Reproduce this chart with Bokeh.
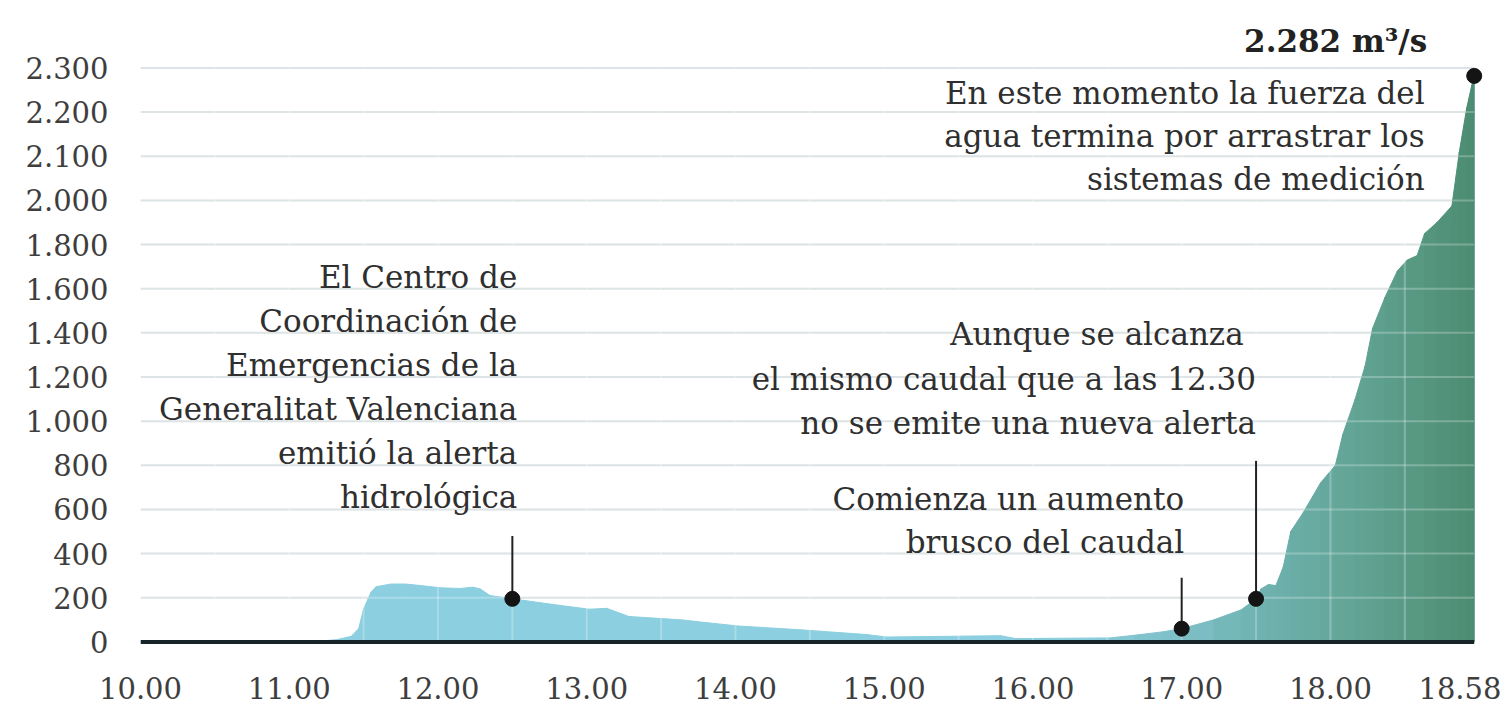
from bokeh.plotting import figure
from bokeh.models import FixedTicker, Range1d
from bokeh.core.properties import value
from bokeh.embed import file_html
from bokeh.resources import INLINE

# ---------------- data ----------------
times = ["10:00", "11:00", "11:12", "11:19", "11:25", "11:28", "11:30", "11:33", "11:35",
         "11:41", "11:47", "11:53", "12:01", "12:09", "12:14", "12:17", "12:21", "12:30",
         "12:46", "13:01", "13:08", "13:11", "13:17", "13:38", "13:46", "14:01", "14:26",
         "14:53", "15:01", "15:47", "15:53", "16:31", "16:41", "16:52", "17:00", "17:13",
         "17:24", "17:30", "17:32", "17:35", "17:38", "17:41", "17:44", "17:49", "17:56",
         "18:02", "18:05", "18:10", "18:14", "18:17", "18:22", "18:27", "18:31", "18:35",
         "18:38", "18:43", "18:49", "18:52", "18:55", "18:57", "18:58"]
flow = [0, 0, 3, 10, 25, 60, 150, 225, 250,
        262, 262, 255, 245, 242, 248, 240, 210, 195,
        170, 148, 152, 140, 115, 100, 90, 72, 55,
        33, 22, 28, 15, 18, 30, 45, 60, 100,
        145, 195, 240, 260, 255, 340, 500, 585, 720,
        800, 940, 1100, 1250, 1420, 1560, 1680, 1730, 1750,
        1850, 1900, 1975, 2110, 2210, 2260, 2282]

x_tick_times = ["10:00", "11:00", "12:00", "13:00", "14:00", "15:00", "16:00", "17:00", "18:00", "18:58"]
x_tick_labels = ["10.00", "11.00", "12.00", "13.00", "14.00", "15.00", "16.00", "17.00", "18.00", "18.58"]
y_tick_values = [0, 200, 400, 600, 800, 1000, 1200, 1400, 1600, 1800, 2000, 2100, 2200, 2300]
y_tick_labels = ["0", "200", "400", "600", "800", "1.000", "1.200", "1.400", "1.600", "1.800",
                 "2.000", "2.100", "2.200", "2.300"]

marker_times = ["12:30", "17:00", "17:30", "18:58"]
peak_label = "2.282 m³/s"
note_alerta = ["El Centro de", "Coordinación de", "Emergencias de la",
               "Generalitat Valenciana", "emitió la alerta", "hidrológica"]
note_mismo = ["Aunque se alcanza", "el mismo caudal que a las 12.30", "no se emite una nueva alerta"]
note_aumento = ["Comienza un aumento", "brusco del caudal"]
note_peak = ["En este momento la fuerza del", "agua termina por arrastrar los", "sistemas de medición"]


def to_min(s):
    h, m = s.split(":")
    return int(h) * 60 + int(m)


def to_units(v):
    # the axis is stretched above 2.000: 200 per step below, 100 per step above
    return v / 200.0 if v <= 2000 else 10 + (v - 2000) / 100.0


x = [to_min(t) for t in times]
y = [to_units(v) for v in flow]
x_end = x[-1]

# ---------------- colours ----------------
stops = [(960, (140, 207, 224)), (1020, (126, 192, 200)), (1050, (112, 179, 178)),
         (1080, (102, 168, 156)), (1110, (90, 155, 134)), (1138, (76, 140, 114))]


def grad(t):
    if t <= stops[0][0]:
        c = stops[0][1]
    elif t >= stops[-1][0]:
        c = stops[-1][1]
    else:
        for (t0, c0), (t1, c1) in zip(stops[:-1], stops[1:]):
            if t0 <= t <= t1:
                f = (t - t0) / (t1 - t0)
                c = tuple(round(a + (b - a) * f) for a, b in zip(c0, c1))
                break
    return "#%02x%02x%02x" % c


p = figure(width=1501, height=708, output_backend="svg", toolbar_location=None,
           x_range=Range1d(600, 600 + 9.13 * 60), y_range=Range1d(-0.15, 14.12),
           min_border_left=140, min_border_right=3, min_border_top=18, min_border_bottom=60)
p.outline_line_color = None
p.xgrid.visible = False
p.ygrid.visible = False
p.background_fill_color = "white"

# horizontal grid lines (under the area)
grid_u = [to_units(v) for v in y_tick_values[1:]]
p.segment(x0=[600] * len(grid_u), x1=[x_end] * len(grid_u), y0=grid_u, y1=grid_u,
          line_color="#d3dbde", line_width=2)

# area, coloured strip by strip
xs, ys, cols = [], [], []
for i in range(len(x) - 1):
    xs.append([x[i], x[i + 1], x[i + 1], x[i]])
    ys.append([0, 0, y[i + 1], y[i]])
    cols.append(grad((x[i] + x[i + 1]) / 2))
p.patches(xs, ys, fill_color=cols, line_color=cols, line_width=1)

# light grid lines over the area
p.segment(x0=[600] * len(grid_u), x1=[x_end] * len(grid_u), y0=grid_u, y1=grid_u,
          line_color="white", line_alpha=0.25, line_width=2)
vx = list(range(630, x_end, 30))
p.segment(x0=vx, x1=vx, y0=[0] * len(vx), y1=[13] * len(vx),
          line_color="white", line_alpha=0.25, line_width=2)

# baseline
p.segment(x0=[600], x1=[x_end], y0=[0], y1=[0], line_color="#17252b", line_width=4)

# markers and stems
mx = [to_min(t) for t in marker_times]
my = [y[x.index(m)] for m in mx]
stem_top = [2.4, 1.45, 4.1]
p.segment(x0=mx[:3], x1=mx[:3], y0=my[:3], y1=stem_top, line_color="#222222", line_width=2)
p.scatter(x=mx, y=my, size=15, color="#141414")

font = value("DejaVu Serif")
tcol = "#2f2f2f"
fs = "31px"


def block(lines, xr, ys_):
    p.text(x=[xr] * len(lines), y=ys_, text=lines, text_align="right", text_baseline="middle",
           text_font=font, text_font_size=fs, text_color=tcol)


block(note_alerta, 752, [8.27, 7.27, 6.27, 5.27, 4.27, 3.28])
p.text(x=[1045], y=[6.98], text=[note_mismo[0]], text_align="right", text_baseline="middle",
       text_font=font, text_font_size=fs, text_color=tcol)
block(note_mismo[1:], 1050, [5.96, 4.96])
block(note_aumento, 1021, [3.24, 2.265])
block(note_peak, 1118, [12.43, 11.46, 10.49])
p.text(x=[1119], y=[13.61], text=[peak_label], text_align="right", text_baseline="middle",
       text_font=font, text_font_size="31px", text_font_style="bold", text_color="#222222")

# axes
xt = [to_min(t) for t in x_tick_times]
p.xaxis.ticker = FixedTicker(ticks=xt)
p.xaxis.major_label_overrides = {t: l for t, l in zip(xt, x_tick_labels)}
yt = [to_units(v) for v in y_tick_values]
p.yaxis.ticker = FixedTicker(ticks=yt)
p.yaxis.major_label_overrides = {t: l for t, l in zip(yt, y_tick_labels)}
for ax in (p.xaxis, p.yaxis):
    ax.axis_line_color = None
    ax.major_tick_line_color = None
    ax.minor_tick_line_color = None
    ax.major_label_text_font = "DejaVu Serif"
    ax.major_label_text_font_size = "29px"
    ax.major_label_text_color = "#3e3e3e"
p.xaxis.major_label_standoff = 22
p.yaxis.major_label_standoff = 26

open("out.html", "w").write(file_html(p, INLINE))
